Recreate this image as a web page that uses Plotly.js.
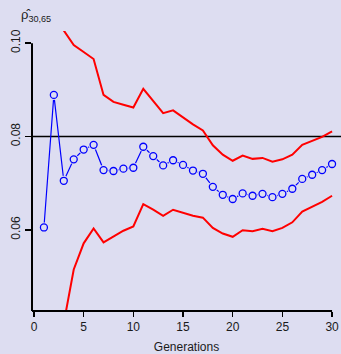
<!DOCTYPE html>
<html>
<head>
<meta charset="utf-8">
<script src="https://cdn.plot.ly/plotly-3.0.1.min.js"></script>
<style>html,body{margin:0;padding:0;background:#DDDDF1;}</style>
</head>
<body>
<div id="chart" style="width:341px;height:354px;"></div>
<script>
const generations = [1,2,3,4,5,6,7,8,9,10,11,12,13,14,15,16,17,18,19,20,21,22,23,24,25,26,27,28,29,30];
const estimate = [0.0605,0.0889,0.0705,0.0751,0.0772,0.0782,0.0728,0.0726,0.0731,0.0733,
                  0.0778,0.0758,0.0738,0.0749,0.0739,0.0727,0.0720,0.0692,0.0675,0.0666,
                  0.0678,0.0673,0.0677,0.0670,0.0677,0.0688,0.0709,0.0718,0.0728,0.0741];
const upper = [0.125,0.115,0.1027,0.0996,0.0981,0.0966,0.0889,0.0874,0.0868,0.0862,
               0.0902,0.0876,0.0850,0.0856,0.0841,0.0826,0.0813,0.0781,0.0761,0.0748,
               0.0759,0.0752,0.0754,0.0746,0.0751,0.0761,0.0782,0.0790,0.0799,0.0811];
const lower = [0.020,0.028,0.0400,0.0515,0.0571,0.0603,0.0573,0.0586,0.0598,0.0607,
               0.0655,0.0643,0.0630,0.0643,0.0637,0.0630,0.0626,0.0604,0.0592,0.0585,
               0.0599,0.0597,0.0602,0.0597,0.0604,0.0616,0.0639,0.0649,0.0660,0.0673];
const refValue = 0.08;
const yTicks = [0.06, 0.08, 0.10];
const yTickText = ['0.06', '0.08', '0.10'];
const xTicks = [0, 5, 10, 15, 20, 25, 30];

const BG = '#DDDDF1';
const yRange = [0.0426, 0.1026];
const xRange = [-0.2, 30.9];

const traces = [
  {x: generations, y: upper, mode: 'lines', line: {color: '#FF0000', width: 2}, hoverinfo: 'skip'},
  {x: generations, y: lower, mode: 'lines', line: {color: '#FF0000', width: 2}, hoverinfo: 'skip'},
  {x: generations, y: estimate, mode: 'lines', line: {color: '#0000FF', width: 1.2}, hoverinfo: 'skip'},
  {x: generations, y: estimate, mode: 'markers', marker: {color: BG, size: 10, line: {width: 0}}, hoverinfo: 'skip'},
  {x: generations, y: estimate, mode: 'markers',
   marker: {symbol: 'circle-open', color: '#0000FF', size: 7, line: {width: 1.3, color: '#0000FF'}}, hoverinfo: 'skip'}
];

const layout = {
  width: 341, height: 354,
  margin: {l: 32, r: 0, t: 31, b: 43, pad: 0},
  paper_bgcolor: BG, plot_bgcolor: BG,
  showlegend: false,
  font: {family: 'Liberation Sans, Arial, sans-serif', size: 12, color: '#1a1a1a'},
  xaxis: {
    range: xRange, showgrid: false, zeroline: false, showline: false,
    tickmode: 'array', tickvals: xTicks, ticktext: xTicks.map(String),
    ticks: 'outside', ticklen: 5, tickwidth: 1.5, tickcolor: '#000',
    tickfont: {size: 12},
    title: {text: 'Generations', font: {size: 12}, standoff: 10},
    automargin: false
  },
  yaxis: {
    range: yRange, showgrid: false, zeroline: false, showline: false,
    tickmode: 'array', tickvals: yTicks, ticktext: yTickText,
    ticks: 'outside', ticklen: 6, tickwidth: 1.5, tickcolor: '#000',
    tickangle: -90, tickfont: {size: 12},
    automargin: false
  },
  shapes: [
    {type: 'line', xref: 'paper', x0: 0, x1: 1, yref: 'y', y0: refValue, y1: refValue,
     line: {color: '#000', width: 1.6}, layer: 'below'},
    {type: 'line', xref: 'paper', x0: 0, x1: 0, yref: 'y', y0: yTicks[yTicks.length-1], y1: yRange[0],
     line: {color: '#000', width: 2}},
    {type: 'line', xref: 'paper', x0: 0, x1: (xTicks[xTicks.length-1]-xRange[0])/(xRange[1]-xRange[0]), yref: 'paper', y0: 0, y1: 0,
     line: {color: '#000', width: 2}}
  ],
  annotations: [
    {xref: 'paper', yref: 'paper', x: -0.043, y: 1.018, xanchor: 'left', yanchor: 'bottom',
     text: 'ρ̂<sub>30,65</sub>', showarrow: false, font: {size: 13, color: '#1a1a1a'}}
  ]
};

Plotly.newPlot('chart', traces, layout, {displayModeBar: false, staticPlot: true});
</script>
</body>
</html>
